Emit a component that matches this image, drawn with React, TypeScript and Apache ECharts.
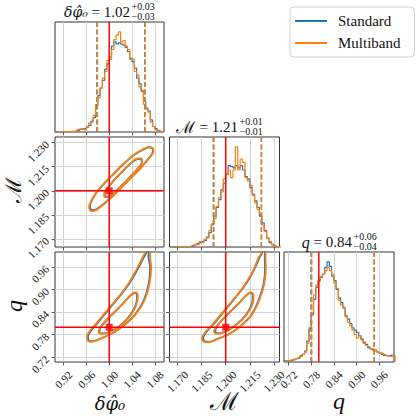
import React, { useEffect, useRef } from 'react';
import * as echarts from 'echarts';

const BLUE = '#1f77b4';
const ORANGE = '#ff7f0e';
const RED = '#ff0000';
const FONT = 'Liberation Serif';
const MATH = 'DejaVu Serif';

// tick values
const phiTicks = [0.92, 0.96, 1.0, 1.04, 1.08];
const mTicks = [1.17, 1.185, 1.2, 1.215, 1.23];
const qTicks = [0.72, 0.78, 0.84, 0.9, 0.96];

// axis ranges
const phiRange = [0.905, 1.096];
const mRange = [1.165, 1.2335];
const qRange = [0.7075, 1.0];

// injected values
const phiTrue = 1.0;
const mTrue = 1.2;
const qTrue = 0.8;

// quantile (dashed) lines
const phiQBlue = [0.9785, 1.0625];
const phiQOrange = [0.9795, 1.063];
const mQBlue = [1.1923, 1.2223];
const mQOrange = [1.1927, 1.2221];
const qQBlue = [0.7795, 0.9475];
const qQOrange = [0.7815, 0.947];

// histogram bins (first edge, width) and normalised heights
const phiBinStart = 0.904;
const phiBinWidth = 0.004;
const phiHistBlue = [0, 0, 0, 0.003, 0.003, 0.003, 0.003, 0.005, 0.005, 0.008,
  0.015, 0.025, 0.03, 0.03, 0.045, 0.06, 0.10, 0.13, 0.24, 0.33,
  0.40, 0.47, 0.57, 0.62, 0.68, 0.78, 0.82, 0.80, 0.81, 0.80,
  0.79, 0.77, 0.73, 0.67, 0.64, 0.58, 0.49, 0.44, 0.37, 0.28,
  0.21, 0.19, 0.11, 0.05, 0.03, 0.015, 0.005, 0.003];
const phiHistOrange = [0, 0, 0.003, 0.003, 0.005, 0.003, 0.003, 0.003, 0.005, 0.01,
  0.025, 0.03, 0.03, 0.02, 0.05, 0.08, 0.09, 0.15, 0.25, 0.31,
  0.40, 0.49, 0.55, 0.65, 0.66, 0.75, 0.84, 0.88, 0.91, 0.82,
  0.83, 0.78, 0.75, 0.66, 0.66, 0.55, 0.52, 0.41, 0.38, 0.25,
  0.22, 0.18, 0.09, 0.05, 0.02, 0.01, 0.005, 0.003];

const mBinStart = 1.1655;
const mBinWidth = 0.0015;
const mHistBlue = [0, 0, 0.002, 0.002, 0.002, 0.002, 0.003, 0.003, 0.005, 0.01,
  0.02, 0.03, 0.04, 0.05, 0.06, 0.09, 0.13, 0.20, 0.28, 0.36,
  0.43, 0.52, 0.58, 0.66, 0.74, 0.73, 0.72, 0.74, 0.72, 0.74,
  0.70, 0.64, 0.62, 0.54, 0.48, 0.42, 0.36, 0.28, 0.22, 0.15,
  0.08, 0.04, 0.025, 0.01, 0.003, 0];
const mHistOrange = [0, 0, 0.002, 0.002, 0.002, 0.002, 0.003, 0.005, 0.008, 0.015,
  0.025, 0.02, 0.05, 0.04, 0.07, 0.08, 0.15, 0.21, 0.26, 0.37,
  0.45, 0.50, 0.62, 0.66, 0.70, 0.63, 0.70, 0.91, 0.70, 0.80,
  0.77, 0.63, 0.60, 0.56, 0.47, 0.40, 0.34, 0.30, 0.20, 0.14,
  0.08, 0.05, 0.02, 0.01, 0.003, 0];

const qBinStart = 0.708;
const qBinWidth = 0.006;
const qHistBlue = [0.01, 0.01, 0.01, 0.015, 0.025, 0.03, 0.035, 0.055, 0.07, 0.10,
  0.19, 0.30, 0.43, 0.57, 0.68, 0.74, 0.77, 0.80, 0.86, 0.91,
  0.87, 0.78, 0.74, 0.66, 0.58, 0.54, 0.49, 0.42, 0.39, 0.35,
  0.31, 0.29, 0.27, 0.24, 0.21, 0.18, 0.16, 0.13, 0.12, 0.11,
  0.10, 0.09, 0.08, 0.07, 0.06, 0.055, 0.05, 0.06, 0.06];
const qHistOrange = [0.005, 0.01, 0.01, 0.02, 0.02, 0.03, 0.04, 0.05, 0.07, 0.09,
  0.17, 0.31, 0.45, 0.61, 0.70, 0.73, 0.78, 0.80, 0.83, 0.86,
  0.83, 0.80, 0.72, 0.67, 0.56, 0.52, 0.50, 0.41, 0.36, 0.33,
  0.29, 0.25, 0.22, 0.24, 0.20, 0.17, 0.15, 0.14, 0.12, 0.12,
  0.11, 0.09, 0.08, 0.08, 0.07, 0.06, 0.05, 0.05, 0.06];

// contours: [x, y] points
const phiMOuterOrange = [[1.0776, 1.2264], [1.0706, 1.2273], [1.0588, 1.2258], [1.0441, 1.2227], [1.0265, 1.2174],
  [1.0088, 1.2111], [0.9912, 1.2048], [0.9765, 1.1985], [0.9677, 1.1933], [0.9647, 1.1901], [0.9665, 1.1878],
  [0.9724, 1.1874], [0.9853, 1.1901], [1.0029, 1.1954], [1.0206, 1.2017], [1.0382, 1.2080], [1.0559, 1.2143],
  [1.0706, 1.2206], [1.0776, 1.2248]];
const phiMInnerOrange = [[1.0570, 1.2201], [1.0500, 1.2201], [1.0382, 1.2174], [1.0235, 1.2122], [1.0088, 1.2069],
  [0.9971, 1.2017], [0.9912, 1.1985], [0.9912, 1.1964], [0.9959, 1.1960], [1.0059, 1.1979], [1.0206, 1.2027],
  [1.0353, 1.2080], [1.0500, 1.2138], [1.0576, 1.2180]];
const phiMOuterBlue = [[1.0765, 1.2262], [1.0700, 1.2270], [1.0585, 1.2254], [1.0440, 1.2224], [1.0265, 1.2171],
  [1.0090, 1.2108], [0.9915, 1.2046], [0.9772, 1.1986], [0.9688, 1.1936], [0.9662, 1.1905], [0.9678, 1.1884],
  [0.9730, 1.1880], [0.9855, 1.1905], [1.0030, 1.1957], [1.0206, 1.2019], [1.0380, 1.2082], [1.0556, 1.2145],
  [1.0700, 1.2207], [1.0766, 1.2246]];
const phiMInnerBlue = [[1.0562, 1.2199], [1.0496, 1.2198], [1.0380, 1.2172], [1.0236, 1.2121], [1.0090, 1.2068],
  [0.9975, 1.2016], [0.9920, 1.1987], [0.9922, 1.1967], [0.9962, 1.1964], [1.0060, 1.1982], [1.0206, 1.2029],
  [1.0352, 1.2081], [1.0498, 1.2138], [1.0570, 1.2178]];

const phiQOuterOrange = [[1.0665, 1.0178], [1.0618, 0.9955], [1.0588, 0.9867], [1.0470, 0.9511], [1.0335, 0.9156],
  [1.0206, 0.8889], [1.0059, 0.8622], [0.9912, 0.8356], [0.9765, 0.8089], [0.9665, 0.7911], [0.9606, 0.7751],
  [0.9618, 0.7644], [0.9676, 0.7609], [0.9853, 0.7698], [1.0088, 0.7867], [1.0294, 0.8089], [1.0470, 0.8356],
  [1.0618, 0.8711], [1.0706, 0.9156], [1.0735, 0.9600], [1.0717, 0.9867], [1.0723, 1.0178]];
const phiQInnerOrange = [[1.0459, 0.8933], [1.0500, 0.8871], [1.0488, 0.8667], [1.0429, 0.8444], [1.0323, 0.8222],
  [1.0176, 0.8018], [1.0000, 0.7867], [0.9882, 0.7822], [0.9812, 0.7867], [0.9835, 0.7982], [0.9941, 0.8178],
  [1.0088, 0.8400], [1.0235, 0.8622], [1.0370, 0.8844]];
const phiQOuterBlue = [[1.0670, 1.0178], [1.0642, 0.9955], [1.0608, 0.9867], [1.0488, 0.9511], [1.0350, 0.9156],
  [1.0220, 0.8889], [1.0072, 0.8622], [0.9928, 0.8356], [0.9782, 0.8089], [0.9685, 0.7911], [0.9628, 0.7755],
  [0.9636, 0.7655], [0.9690, 0.7622], [0.9860, 0.7706], [1.0090, 0.7872], [1.0290, 0.8092], [1.0462, 0.8356],
  [1.0606, 0.8711], [1.0692, 0.9156], [1.0716, 0.9600], [1.0690, 0.9867], [1.0700, 1.0178]];
const phiQInnerBlue = [[1.0450, 0.8920], [1.0488, 0.8860], [1.0478, 0.8662], [1.0420, 0.8444], [1.0318, 0.8226],
  [1.0176, 0.8026], [1.0004, 0.7878], [0.9890, 0.7835], [0.9826, 0.7874], [0.9846, 0.7984], [0.9948, 0.8176],
  [1.0090, 0.8396], [1.0232, 0.8616], [1.0364, 0.8832]];

const mQOuterOrange = [[1.2227, 1.0178], [1.2219, 0.9955], [1.2206, 0.9867], [1.2171, 0.9511], [1.2123, 0.9156],
  [1.2077, 0.8889], [1.2025, 0.8622], [1.1973, 0.8356], [1.1921, 0.8089], [1.1873, 0.7867], [1.1852, 0.7707],
  [1.1865, 0.7609], [1.1894, 0.7600], [1.1952, 0.7689], [1.2025, 0.7822], [1.2098, 0.8044], [1.2160, 0.8311],
  [1.2208, 0.8711], [1.2240, 0.9156], [1.2250, 0.9600], [1.2248, 0.9867], [1.2252, 1.0178]];
const mQInnerOrange = [[1.2156, 0.8933], [1.2173, 0.8871], [1.2169, 0.8640], [1.2144, 0.8418], [1.2102, 0.8196],
  [1.2046, 0.8000], [1.1990, 0.7867], [1.1948, 0.7822], [1.1927, 0.7884], [1.1942, 0.8018], [1.1983, 0.8222],
  [1.2035, 0.8444], [1.2088, 0.8667], [1.2133, 0.8871]];
const mQOuterBlue = [[1.2230, 1.0178], [1.2224, 0.9955], [1.2212, 0.9867], [1.2175, 0.9511], [1.2127, 0.9156],
  [1.2080, 0.8889], [1.2029, 0.8622], [1.1977, 0.8356], [1.1926, 0.8089], [1.1880, 0.7873], [1.1860, 0.7712],
  [1.1870, 0.7622], [1.1896, 0.7612], [1.1953, 0.7698], [1.2024, 0.7828], [1.2096, 0.8048], [1.2157, 0.8311],
  [1.2204, 0.8711], [1.2236, 0.9156], [1.2245, 0.9600], [1.2243, 0.9867], [1.2246, 1.0178]];
const mQInnerBlue = [[1.2154, 0.8920], [1.2168, 0.8862], [1.2164, 0.8640], [1.2140, 0.8420], [1.2100, 0.8200],
  [1.2046, 0.8008], [1.1992, 0.7878], [1.1952, 0.7836], [1.1934, 0.7890], [1.1946, 0.8020], [1.1985, 0.8222],
  [1.2036, 0.8442], [1.2088, 0.8662], [1.2131, 0.8862]];

// layout
const COLS = [55, 169.5, 284];
const ROWS = [22, 137, 252];
const SIZE = 110;

function histData(start: number, width: number, h: number[]) {
  const pts: number[][] = [[start, 0]];
  h.forEach((v, i) => pts.push([start + i * width, v]));
  pts.push([start + h.length * width, 0]);
  return pts;
}
const closed = (a: number[][]) => [...a, a[0]];

function buildOption() {
  // grid index: 0 phi hist, 1 phi-M, 2 phi-q, 3 M hist, 4 M-q, 5 q hist
  const cells = [
    { c: 0, r: 0 }, { c: 0, r: 1 }, { c: 0, r: 2 },
    { c: 1, r: 1 }, { c: 1, r: 2 }, { c: 2, r: 2 },
  ];
  const grid = cells.map(({ c, r }) => ({
    left: COLS[c], top: ROWS[r], width: c === 0 ? 109 : SIZE, height: SIZE,
    show: true, borderColor: '#333', borderWidth: 1, backgroundColor: 'transparent',
  }));

  const xInfo = [
    { range: phiRange, ticks: phiTicks, dec: 2, labels: false },
    { range: phiRange, ticks: phiTicks, dec: 2, labels: false },
    { range: phiRange, ticks: phiTicks, dec: 2, labels: true },
    { range: mRange, ticks: mTicks, dec: 3, labels: false },
    { range: mRange, ticks: mTicks, dec: 3, labels: true },
    { range: qRange, ticks: qTicks, dec: 2, labels: true },
  ];
  const xAxis = xInfo.map((a, i) => ({
    gridIndex: i, type: 'value', min: a.range[0], max: a.range[1],
    axisLine: { show: false },
    axisTick: { show: true, inside: false, length: 3.5, customValues: a.ticks, lineStyle: { color: '#333', width: 0.8 } },
    axisLabel: {
      show: a.labels, customValues: a.ticks, rotate: 45, align: 'center', verticalAlign: 'middle',
      margin: a.dec === 3 ? 19.5 : 17.5,
      formatter: (v: number) => v.toFixed(a.dec), fontFamily: FONT, fontSize: 11, color: '#111',
    },
    splitLine: { show: true, lineStyle: { color: '#d3d3d3', width: 1 } },
  }));

  const yInfo: any[] = [
    null,
    { range: mRange, ticks: mTicks, dec: 3, labels: true },
    { range: qRange, ticks: qTicks, dec: 2, labels: true },
    null,
    { range: qRange, ticks: qTicks, dec: 2, labels: false },
    null,
  ];
  const yAxis = yInfo.map((a, i) => a === null
    ? { gridIndex: i, type: 'value', min: 0, max: 1, show: false }
    : {
      gridIndex: i, type: 'value', min: a.range[0], max: a.range[1],
      axisLine: { show: false },
      axisTick: { show: true, inside: false, length: 3.5, customValues: a.ticks, lineStyle: { color: '#333', width: 0.8 } },
      axisLabel: {
        show: a.labels, customValues: a.ticks, rotate: 45, margin: 8,
        formatter: (v: number) => v.toFixed(a.dec), fontFamily: FONT, fontSize: 11, color: '#111',
      },
      splitLine: { show: true, lineStyle: { color: '#d3d3d3', width: 1 } },
    });

  const series: any[] = [];
  const line = (gi: number, name: string, data: number[][], color: string, width: number, extra: any = {}) => {
    series.push({
      type: 'line', name, xAxisIndex: gi, yAxisIndex: gi, data, symbol: 'none', showSymbol: false,
      lineStyle: { color, width }, itemStyle: { color }, silent: true, z: 3, ...extra,
    });
  };
  const dashed = (gi: number, name: string, x: number, color: string) =>
    line(gi, name, [[x, 0], [x, 1]], color, 1.4, { lineStyle: { color, width: 1.4, type: [5, 2.5] }, z: 4 });

  // histograms
  const hists: [number, number, number, number[], number[], number[], number[], number][] = [
    [0, phiBinStart, phiBinWidth, phiHistBlue, phiHistOrange, phiQBlue, phiQOrange, phiTrue],
    [3, mBinStart, mBinWidth, mHistBlue, mHistOrange, mQBlue, mQOrange, mTrue],
    [5, qBinStart, qBinWidth, qHistBlue, qHistOrange, qQBlue, qQOrange, qTrue],
  ];
  hists.forEach(([gi, s, w, hb, ho, qb, qo, tr]) => {
    line(gi, 'Standard', histData(s, w, hb), BLUE, 1.2, { step: 'end' });
    line(gi, 'Multiband', histData(s, w, ho), ORANGE, 1.2, { step: 'end' });
    qb.forEach((x) => dashed(gi, 'Standard', x, BLUE));
    qo.forEach((x) => dashed(gi, 'Multiband', x, ORANGE));
    line(gi, 'truth', [[tr, 0], [tr, 1]], RED, 1.5, { z: 5 });
  });

  // 2D panels
  const panels: [number, number[][], number[][], number[][], number[][], number, number, number[], number[]][] = [
    [1, phiMOuterBlue, phiMInnerBlue, phiMOuterOrange, phiMInnerOrange, phiTrue, mTrue, phiRange, mRange],
    [2, phiQOuterBlue, phiQInnerBlue, phiQOuterOrange, phiQInnerOrange, phiTrue, qTrue, phiRange, qRange],
    [4, mQOuterBlue, mQInnerBlue, mQOuterOrange, mQInnerOrange, mTrue, qTrue, mRange, qRange],
  ];
  panels.forEach(([gi, ob, ib, oo, io, tx, ty, xr, yr]) => {
    line(gi, 'Standard', closed(ob), BLUE, 1.8, { smooth: 0.35 });
    line(gi, 'Standard', closed(ib), BLUE, 1.8, { smooth: 0.35 });
    line(gi, 'Multiband', closed(oo), ORANGE, 1.8, { smooth: 0.35 });
    line(gi, 'Multiband', closed(io), ORANGE, 1.8, { smooth: 0.35 });
    line(gi, 'truth', [[tx, yr[0]], [tx, yr[1]]], RED, 1.5, { z: 5 });
    line(gi, 'truth', [[xr[0], ty], [xr[1], ty]], RED, 1.5, { z: 5 });
    series.push({
      type: 'scatter', name: 'truth', xAxisIndex: gi, yAxisIndex: gi, data: [[tx, ty]],
      symbol: 'rect', symbolSize: 7, itemStyle: { color: RED }, silent: true, z: 6,
    });
  });

  const titleTexts = [
    { main: '{i|δφ̂₀} = 1.02', sup: '+0.03', sub: '−0.03', right: 130, top: ROWS[0] },
    { main: '{m|ℳ} = 1.21', sup: '+0.01', sub: '−0.01', right: 238, top: ROWS[1] },
    { main: '{q|q} = 0.84', sup: '+0.06', sub: '−0.04', right: 352, top: ROWS[2] },
  ];
  const graphic: any[] = [];
  titleTexts.forEach((t) => {
    graphic.push({
      type: 'text', x: t.right, y: t.top - 10,
      style: {
        text: t.main, fontFamily: FONT, fontSize: 15, fill: '#111', align: 'right', verticalAlign: 'middle',
        rich: {
          i: { fontStyle: 'italic', fontFamily: MATH, fontSize: 14, fill: '#111' },
          m: { fontFamily: FONT, fontSize: 17, fill: '#111' },
          q: { fontStyle: 'italic', fontFamily: FONT, fontSize: 16, fill: '#111' },
        },
      },
    });
    graphic.push({
      type: 'text', x: t.right + 1.5, y: t.top - 16,
      style: { text: t.sup, fontFamily: FONT, fontSize: 10, fill: '#111', align: 'left', verticalAlign: 'middle' },
    });
    graphic.push({
      type: 'text', x: t.right + 1.5, y: t.top - 5.5,
      style: { text: t.sub, fontFamily: FONT, fontSize: 10, fill: '#111', align: 'left', verticalAlign: 'middle' },
    });
  });
  const names = [
    { text: 'δφ̂₀', x: 110, y: 403, rot: 0, italic: true, font: MATH, size: 18 },
    { text: 'ℳ', x: 224.5, y: 401, rot: 0, italic: false, font: FONT, size: 25 },
    { text: 'q', x: 339, y: 401, rot: 0, italic: true, font: FONT, size: 24 },
    { text: 'ℳ', x: 13, y: 190, rot: Math.PI / 2, italic: false, font: FONT, size: 22 },
    { text: 'q', x: 14, y: 306, rot: Math.PI / 2, italic: true, font: FONT, size: 24 },
  ];
  names.forEach((n) => graphic.push({
    type: 'text', x: n.x, y: n.y, rotation: n.rot,
    style: {
      text: n.text, fontFamily: n.font, fontSize: n.size, fontStyle: n.italic ? 'italic' : 'normal',
      fill: '#111', align: 'center', verticalAlign: 'middle',
    },
  }));

  return {
    animation: false,
    backgroundColor: '#ffffff',
    grid, xAxis, yAxis, series, graphic,
    legend: {
      data: [{ name: 'Standard', icon: 'rect' }, { name: 'Multiband', icon: 'rect' }],
      orient: 'vertical', left: 290, top: 7,
      padding: [6, 14, 6, 5], itemWidth: 32, itemHeight: 2, itemGap: 6,
      borderColor: '#d0d0d0', borderWidth: 1, borderRadius: 4, backgroundColor: '#fff',
      selectedMode: false,
      textStyle: { fontFamily: FONT, fontSize: 15, lineHeight: 16, color: '#111', padding: [0, 0, 0, 6] },
    },
  };
}

export default function App() {
  const ref = useRef<HTMLDivElement>(null);
  useEffect(() => {
    if (!ref.current) return;
    const chart = echarts.init(ref.current, undefined, { renderer: 'svg' });
    chart.setOption(buildOption() as any);
    return () => chart.dispose();
  }, []);
  return <div ref={ref} style={{ position: 'absolute', left: 0, top: 0, width: 416, height: 416 }} />;
}
